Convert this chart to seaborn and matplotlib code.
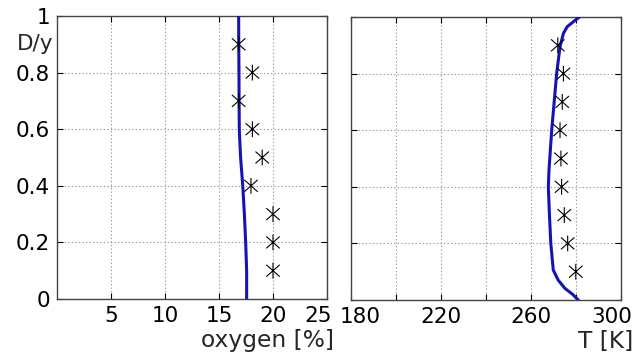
import numpy as np
import pandas as pd
import matplotlib
matplotlib.use("Agg")
import matplotlib.pyplot as plt
import matplotlib.transforms as mtransforms
from matplotlib.path import Path
import seaborn as sns

# Normalised depth D/y
depth_line_o2 = [0.0, 0.1, 0.2, 0.3, 0.4, 0.5, 0.58, 0.6, 0.7, 0.8, 0.9, 1.0]
oxygen_line = [17.56, 17.56, 17.47, 17.35, 17.2, 17.0, 16.9, 16.88, 16.86, 16.85, 16.83, 16.82]

depth_line_t = [0.0, 0.02, 0.041, 0.07, 0.106, 0.2, 0.3, 0.4, 0.459, 0.6, 0.7, 0.8, 0.895, 0.942, 0.966, 1.0]
temp_line = [281.0, 278.5, 275.1, 272.1, 269.9, 268.8, 268.2, 267.7, 268.0, 269.2, 270.3, 271.4, 272.9, 274.4, 276.1, 281.5]

depth_meas = [0.9, 0.8, 0.7, 0.6, 0.5, 0.4, 0.3, 0.2, 0.1]
oxygen_meas = [16.82, 18.09, 16.82, 18.09, 19.0, 17.96, 20.0, 20.0, 20.0]
temp_meas = [271.9, 274.4, 273.9, 272.9, 273.3, 273.6, 274.8, 276.3, 279.9]

o2_ticks = [5, 10, 15, 20, 25]
t_ticks = [180, 200, 220, 240, 260, 280, 300]
t_ticklabels = ["180", "", "220", "", "260", "", "300"]
y_ticks = [0, 0.2, 0.4, 0.6, 0.8, 1.0]
y_ticklabels = ["0", "0.2", "0.4", "0.6", "0.8", "1"]

sns.set_theme(style="white")
plt.rcParams["font.family"] = ["DejaVu Sans"]

# six-armed asterisk: vertical stroke plus two diagonals
star = Path(
    [(0, -1), (0, 1), (-0.85, -0.75), (0.85, 0.75), (-0.85, 0.75), (0.85, -0.75)],
    [Path.MOVETO, Path.LINETO, Path.MOVETO, Path.LINETO, Path.MOVETO, Path.LINETO],
)

fig = plt.figure(figsize=(6.35, 3.56), dpi=100)
ax1 = fig.add_axes([57 / 635, 57 / 356, 270 / 635, 283 / 356])
ax2 = fig.add_axes([351 / 635, 56 / 356, 270 / 635, 283 / 356])

line_color = "#1414b4"
fs = 15.5
fs_label = 16.8

df_o2 = pd.DataFrame({"x": oxygen_line, "y": depth_line_o2})
df_t = pd.DataFrame({"x": temp_line, "y": depth_line_t})
df_mo = pd.DataFrame({"x": oxygen_meas, "y": depth_meas})
df_mt = pd.DataFrame({"x": temp_meas, "y": depth_meas})

for ax, dline, dmeas in ((ax1, df_o2, df_mo), (ax2, df_t, df_mt)):
    sns.lineplot(data=dline, x="x", y="y", sort=False, ax=ax, color=line_color,
                 linewidth=2.2, estimator=None, zorder=3)
    sns.scatterplot(data=dmeas, x="x", y="y", ax=ax, marker=star, s=130,
                    facecolors="none", edgecolor="black", linewidth=0.8, zorder=4)
    ax.set_ylim(0, 1)
    ax.set_yticks(y_ticks)
    ax.grid(True, linestyle=(0, (1.2, 2.0)), color="#9a9a9a", linewidth=0.8)
    ax.tick_params(direction="in", length=4, width=0.8, color="black",
                   top=True, right=True, bottom=True, left=True,
                   labelsize=fs, labelcolor="black", pad=5)
    for sp in ax.spines.values():
        sp.set_color("#444444")
        sp.set_linewidth(1.0)
    ax.set_xlabel("")
    ax.set_ylabel("")

ax1.set_xlim(0, 25)
ax1.set_xticks(o2_ticks)
ax1.set_yticklabels(y_ticklabels)
ax1.set_ylabel("D/y", fontsize=fs, rotation=0, ha="right", va="center")
ax1.yaxis.set_label_coords(-0.015, 0.9)
ax1.set_xlabel("oxygen [%]", fontsize=fs_label, ha="right", va="baseline")
ax1.xaxis.set_label_coords(1.025, -0.17)

ax2.set_xlim(180, 300)
ax2.set_xticks(t_ticks)
ax2.set_xticklabels(t_ticklabels)
ax2.set_yticklabels([])
ax2.set_xlabel("T [K]", fontsize=fs_label, ha="right", va="baseline")
ax2.xaxis.set_label_coords(1.045, -0.17)

# nudge the end labels inward so neighbouring panels do not collide
fig.canvas.draw()
shift = 6.5 / 72
left_shift = mtransforms.ScaledTranslation(-shift, 0, fig.dpi_scale_trans)
right_shift = mtransforms.ScaledTranslation(shift, 0, fig.dpi_scale_trans)
lab25 = ax1.xaxis.get_major_ticks()[-1].label1
lab25.set_transform(lab25.get_transform() + left_shift)
lab180 = ax2.xaxis.get_major_ticks()[0].label1
lab180.set_transform(lab180.get_transform() + right_shift)
lab300 = ax2.xaxis.get_major_ticks()[-1].label1
lab300.set_transform(lab300.get_transform() + left_shift)

fig.savefig("out.png", dpi=100)
